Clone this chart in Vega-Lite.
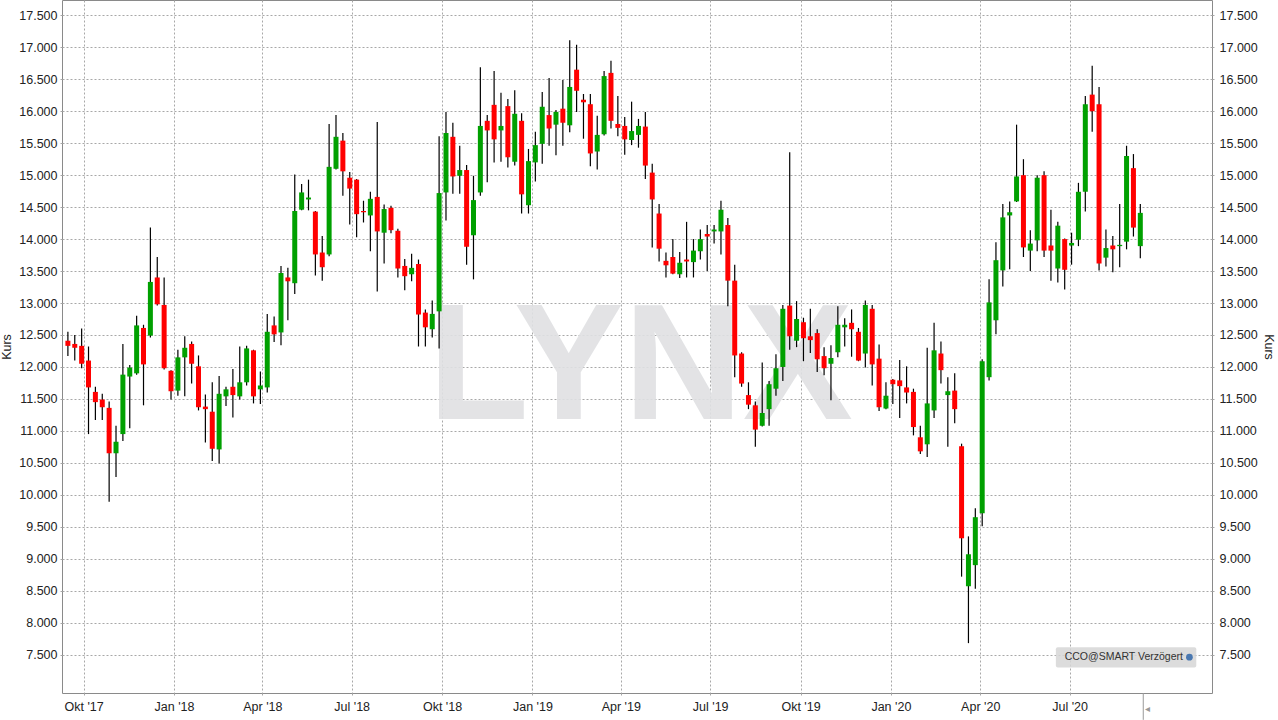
{
"$schema": "https://vega.github.io/schema/vega-lite/v6.json",
"width": 1150, "height": 693,
"autosize": {"type": "none"},
"padding": {"left": 62, "right": 66, "top": 0, "bottom": 27},
"background": "#ffffff",
"config": {
 "view": {"stroke": "#8a8a8a", "strokeWidth": 1},
 "scale": {"continuousPadding": 0},
 "axis": {"labelFont": "Liberation Sans", "labelFontSize": 12.5, "labelColor": "#222222", "titleFont": "Liberation Sans", "titleFontSize": 12.5, "titleFontWeight": "normal", "titleColor": "#222222", "gridColor": "#a8a8a8", "gridDash": [2, 2], "gridWidth": 1, "domain": false, "tickColor": "#a8a8a8", "tickDash": [2, 2]},
 "axisX": {"title": null, "grid": true, "ticks": true, "tickSize": 4, "labelPadding": 3, "labelOverlap": false, "labelFlush": false}
},
"datasets": {
 "candles": [
{"d":"2017-09-15","o":12.41,"h":12.55,"l":12.17,"c":12.33},
{"d":"2017-09-22","o":12.36,"h":12.50,"l":12.10,"c":12.30},
{"d":"2017-09-29","o":12.33,"h":12.60,"l":11.98,"c":12.05},
{"d":"2017-10-06","o":12.10,"h":12.32,"l":10.95,"c":11.68},
{"d":"2017-10-13","o":11.61,"h":11.69,"l":11.17,"c":11.45},
{"d":"2017-10-20","o":11.49,"h":11.58,"l":11.17,"c":11.37},
{"d":"2017-10-27","o":11.36,"h":11.46,"l":9.89,"c":10.65},
{"d":"2017-11-03","o":10.65,"h":11.08,"l":10.28,"c":10.83},
{"d":"2017-11-10","o":10.95,"h":12.36,"l":10.84,"c":11.88},
{"d":"2017-11-17","o":11.85,"h":12.03,"l":11.04,"c":11.99},
{"d":"2017-11-24","o":11.90,"h":12.80,"l":11.88,"c":12.65},
{"d":"2017-12-01","o":12.61,"h":12.66,"l":11.40,"c":12.04},
{"d":"2017-12-08","o":12.49,"h":14.18,"l":12.46,"c":13.33},
{"d":"2017-12-15","o":13.40,"h":13.72,"l":12.96,"c":12.98},
{"d":"2017-12-22","o":12.97,"h":13.40,"l":11.96,"c":11.98},
{"d":"2017-12-29","o":11.94,"h":11.95,"l":11.49,"c":11.62},
{"d":"2018-01-05","o":11.63,"h":12.27,"l":11.55,"c":12.15},
{"d":"2018-01-12","o":12.15,"h":12.48,"l":11.54,"c":12.30},
{"d":"2018-01-19","o":12.36,"h":12.40,"l":11.74,"c":12.05},
{"d":"2018-01-26","o":12.01,"h":12.18,"l":11.32,"c":11.37},
{"d":"2018-02-02","o":11.38,"h":11.57,"l":10.82,"c":11.34},
{"d":"2018-02-09","o":11.30,"h":11.76,"l":10.53,"c":10.72},
{"d":"2018-02-16","o":10.71,"h":11.86,"l":10.49,"c":11.58},
{"d":"2018-02-23","o":11.54,"h":11.69,"l":11.39,"c":11.65},
{"d":"2018-03-02","o":11.69,"h":11.97,"l":11.21,"c":11.56},
{"d":"2018-03-09","o":11.54,"h":12.32,"l":11.49,"c":11.76},
{"d":"2018-03-16","o":11.76,"h":12.33,"l":11.71,"c":12.29},
{"d":"2018-03-23","o":12.26,"h":12.27,"l":11.43,"c":11.54},
{"d":"2018-03-30","o":11.65,"h":11.93,"l":11.42,"c":11.71},
{"d":"2018-04-06","o":11.68,"h":12.83,"l":11.60,"c":12.55},
{"d":"2018-04-13","o":12.65,"h":12.79,"l":12.39,"c":12.51},
{"d":"2018-04-20","o":12.54,"h":13.58,"l":12.34,"c":13.47},
{"d":"2018-04-27","o":13.40,"h":13.55,"l":12.73,"c":13.34},
{"d":"2018-05-04","o":13.31,"h":15.01,"l":13.14,"c":14.44},
{"d":"2018-05-11","o":14.46,"h":14.86,"l":14.45,"c":14.73},
{"d":"2018-05-18","o":14.62,"h":14.93,"l":14.45,"c":14.65},
{"d":"2018-05-25","o":14.43,"h":14.44,"l":13.43,"c":13.76},
{"d":"2018-06-01","o":13.79,"h":14.05,"l":13.35,"c":13.56},
{"d":"2018-06-08","o":13.76,"h":15.80,"l":13.73,"c":15.13},
{"d":"2018-06-15","o":15.10,"h":15.94,"l":15.09,"c":15.60},
{"d":"2018-06-22","o":15.54,"h":15.66,"l":14.68,"c":15.06},
{"d":"2018-06-29","o":14.96,"h":15.05,"l":14.23,"c":14.79},
{"d":"2018-07-06","o":14.93,"h":14.94,"l":14.03,"c":14.39},
{"d":"2018-07-13","o":14.44,"h":14.60,"l":14.26,"c":14.42},
{"d":"2018-07-20","o":14.37,"h":14.74,"l":13.81,"c":14.63},
{"d":"2018-07-27","o":14.66,"h":15.83,"l":13.18,"c":14.12},
{"d":"2018-08-03","o":14.10,"h":14.54,"l":13.62,"c":14.47},
{"d":"2018-08-10","o":14.49,"h":14.52,"l":14.09,"c":14.14},
{"d":"2018-08-17","o":14.13,"h":14.16,"l":13.40,"c":13.54},
{"d":"2018-08-24","o":13.58,"h":13.69,"l":13.20,"c":13.42},
{"d":"2018-08-31","o":13.45,"h":13.77,"l":13.34,"c":13.55},
{"d":"2018-09-07","o":13.61,"h":13.68,"l":12.32,"c":12.82},
{"d":"2018-09-14","o":12.85,"h":12.90,"l":12.32,"c":12.62},
{"d":"2018-09-21","o":12.59,"h":13.04,"l":12.46,"c":12.83},
{"d":"2018-09-28","o":12.87,"h":15.61,"l":12.29,"c":14.72},
{"d":"2018-10-05","o":14.73,"h":15.99,"l":14.29,"c":15.66},
{"d":"2018-10-12","o":15.60,"h":15.82,"l":14.71,"c":14.98},
{"d":"2018-10-19","o":14.99,"h":15.46,"l":14.71,"c":15.08},
{"d":"2018-10-26","o":15.08,"h":15.16,"l":13.60,"c":13.88},
{"d":"2018-11-02","o":14.06,"h":14.99,"l":13.37,"c":14.61},
{"d":"2018-11-09","o":14.73,"h":16.69,"l":14.68,"c":15.77},
{"d":"2018-11-16","o":15.85,"h":15.94,"l":14.89,"c":15.70},
{"d":"2018-11-23","o":16.10,"h":16.63,"l":15.20,"c":15.56},
{"d":"2018-11-30","o":15.70,"h":16.29,"l":15.21,"c":15.77},
{"d":"2018-12-07","o":16.08,"h":16.19,"l":15.12,"c":15.28},
{"d":"2018-12-14","o":15.21,"h":16.33,"l":15.15,"c":15.96},
{"d":"2018-12-21","o":15.85,"h":15.97,"l":14.40,"c":14.70},
{"d":"2018-12-28","o":14.53,"h":15.41,"l":14.40,"c":15.22},
{"d":"2019-01-04","o":15.20,"h":15.68,"l":14.90,"c":15.47},
{"d":"2019-01-11","o":15.49,"h":16.30,"l":15.18,"c":16.07},
{"d":"2019-01-18","o":15.94,"h":16.52,"l":15.46,"c":15.73},
{"d":"2019-01-25","o":15.79,"h":16.02,"l":15.31,"c":15.99},
{"d":"2019-02-01","o":16.04,"h":16.49,"l":15.46,"c":15.82},
{"d":"2019-02-08","o":15.78,"h":17.11,"l":15.67,"c":16.38},
{"d":"2019-02-15","o":16.65,"h":17.04,"l":15.99,"c":16.32},
{"d":"2019-02-22","o":16.18,"h":16.27,"l":15.57,"c":16.14},
{"d":"2019-03-01","o":16.11,"h":16.27,"l":15.14,"c":15.34},
{"d":"2019-03-08","o":15.37,"h":15.93,"l":15.09,"c":15.63},
{"d":"2019-03-15","o":15.64,"h":16.63,"l":15.62,"c":16.55},
{"d":"2019-03-22","o":16.60,"h":16.79,"l":15.73,"c":15.85},
{"d":"2019-03-29","o":15.80,"h":16.24,"l":15.61,"c":15.74},
{"d":"2019-04-05","o":15.77,"h":15.91,"l":15.32,"c":15.56},
{"d":"2019-04-12","o":15.55,"h":16.15,"l":15.47,"c":15.69},
{"d":"2019-04-19","o":15.63,"h":15.88,"l":15.43,"c":15.77},
{"d":"2019-04-26","o":15.76,"h":15.99,"l":14.94,"c":15.15},
{"d":"2019-05-03","o":15.04,"h":15.18,"l":13.87,"c":14.62},
{"d":"2019-05-10","o":14.40,"h":14.55,"l":13.65,"c":13.85},
{"d":"2019-05-17","o":13.66,"h":13.79,"l":13.40,"c":13.59},
{"d":"2019-05-24","o":13.72,"h":14.00,"l":13.45,"c":13.46},
{"d":"2019-05-31","o":13.45,"h":13.80,"l":13.39,"c":13.63},
{"d":"2019-06-07","o":13.68,"h":14.27,"l":13.40,"c":13.65},
{"d":"2019-06-14","o":13.64,"h":14.00,"l":13.40,"c":13.82},
{"d":"2019-06-21","o":13.81,"h":14.15,"l":13.68,"c":14.00},
{"d":"2019-06-28","o":14.08,"h":14.22,"l":13.50,"c":14.04},
{"d":"2019-07-05","o":14.12,"h":14.22,"l":13.93,"c":14.15},
{"d":"2019-07-12","o":14.12,"h":14.60,"l":13.76,"c":14.46},
{"d":"2019-07-19","o":14.22,"h":14.33,"l":12.95,"c":13.35},
{"d":"2019-07-26","o":13.35,"h":13.60,"l":11.84,"c":12.18},
{"d":"2019-08-02","o":12.21,"h":12.23,"l":11.69,"c":11.74},
{"d":"2019-08-09","o":11.56,"h":11.76,"l":11.34,"c":11.41},
{"d":"2019-08-16","o":11.40,"h":11.46,"l":10.75,"c":11.02},
{"d":"2019-08-23","o":11.08,"h":12.07,"l":11.07,"c":11.28},
{"d":"2019-08-30","o":11.34,"h":11.78,"l":11.08,"c":11.73},
{"d":"2019-09-06","o":11.66,"h":12.20,"l":11.55,"c":11.98},
{"d":"2019-09-13","o":12.00,"h":12.97,"l":11.78,"c":12.91},
{"d":"2019-09-20","o":12.96,"h":15.36,"l":12.27,"c":12.48},
{"d":"2019-09-27","o":12.41,"h":13.03,"l":12.31,"c":12.75},
{"d":"2019-10-04","o":12.70,"h":12.77,"l":12.09,"c":12.45},
{"d":"2019-10-11","o":12.48,"h":12.91,"l":12.22,"c":12.42},
{"d":"2019-10-18","o":12.53,"h":12.59,"l":11.92,"c":12.12},
{"d":"2019-10-25","o":12.17,"h":12.31,"l":11.87,"c":11.98},
{"d":"2019-11-01","o":12.05,"h":12.34,"l":11.48,"c":12.14},
{"d":"2019-11-08","o":12.23,"h":12.95,"l":12.15,"c":12.66},
{"d":"2019-11-15","o":12.62,"h":12.76,"l":12.32,"c":12.66},
{"d":"2019-11-22","o":12.69,"h":12.90,"l":12.16,"c":12.59},
{"d":"2019-11-29","o":12.55,"h":12.61,"l":12.09,"c":12.10},
{"d":"2019-12-06","o":12.21,"h":13.04,"l":11.99,"c":12.97},
{"d":"2019-12-13","o":12.91,"h":12.97,"l":11.71,"c":12.04},
{"d":"2019-12-20","o":12.13,"h":12.35,"l":11.31,"c":11.37},
{"d":"2019-12-27","o":11.35,"h":11.76,"l":11.34,"c":11.55},
{"d":"2020-01-03","o":11.80,"h":11.81,"l":11.42,"c":11.73},
{"d":"2020-01-10","o":11.79,"h":12.11,"l":11.20,"c":11.70},
{"d":"2020-01-17","o":11.68,"h":12.01,"l":11.43,"c":11.60},
{"d":"2020-01-24","o":11.61,"h":11.66,"l":10.93,"c":11.06},
{"d":"2020-01-31","o":10.90,"h":11.08,"l":10.64,"c":10.68},
{"d":"2020-02-07","o":10.79,"h":12.30,"l":10.59,"c":11.43},
{"d":"2020-02-14","o":11.32,"h":12.69,"l":11.20,"c":12.26},
{"d":"2020-02-21","o":12.21,"h":12.40,"l":11.74,"c":11.95},
{"d":"2020-02-28","o":11.56,"h":11.84,"l":10.75,"c":11.62},
{"d":"2020-03-06","o":11.63,"h":11.90,"l":11.12,"c":11.34},
{"d":"2020-03-13","o":10.76,"h":10.80,"l":8.72,"c":9.32},
{"d":"2020-03-20","o":8.57,"h":9.35,"l":7.68,"c":9.07},
{"d":"2020-03-27","o":8.90,"h":9.79,"l":8.53,"c":9.65},
{"d":"2020-04-03","o":9.71,"h":12.12,"l":9.51,"c":12.09},
{"d":"2020-04-10","o":11.84,"h":13.37,"l":11.79,"c":13.01},
{"d":"2020-04-17","o":12.73,"h":13.95,"l":12.51,"c":13.67},
{"d":"2020-04-24","o":13.51,"h":14.55,"l":13.26,"c":14.34},
{"d":"2020-05-01","o":14.37,"h":14.59,"l":13.53,"c":14.42},
{"d":"2020-05-08","o":14.59,"h":15.79,"l":14.58,"c":14.98},
{"d":"2020-05-15","o":15.00,"h":15.25,"l":13.72,"c":13.87},
{"d":"2020-05-22","o":13.82,"h":14.14,"l":13.50,"c":13.93},
{"d":"2020-05-29","o":13.98,"h":15.00,"l":13.81,"c":14.96},
{"d":"2020-06-05","o":15.00,"h":15.06,"l":13.72,"c":13.82},
{"d":"2020-06-12","o":13.90,"h":14.46,"l":13.35,"c":13.82},
{"d":"2020-06-19","o":13.54,"h":14.27,"l":13.32,"c":14.21},
{"d":"2020-06-26","o":14.00,"h":14.01,"l":13.21,"c":13.52},
{"d":"2020-07-03","o":13.90,"h":14.10,"l":13.60,"c":13.94},
{"d":"2020-07-10","o":13.99,"h":14.88,"l":13.89,"c":14.74},
{"d":"2020-07-17","o":14.74,"h":16.24,"l":14.43,"c":16.11},
{"d":"2020-07-24","o":16.26,"h":16.71,"l":15.68,"c":16.00},
{"d":"2020-07-31","o":16.11,"h":16.38,"l":13.51,"c":13.62},
{"d":"2020-08-07","o":13.71,"h":14.15,"l":13.57,"c":13.86},
{"d":"2020-08-14","o":13.90,"h":14.05,"l":13.48,"c":13.84},
{"d":"2020-08-21","o":13.89,"h":14.55,"l":13.56,"c":13.91},
{"d":"2020-08-28","o":13.96,"h":15.46,"l":13.84,"c":15.30},
{"d":"2020-09-04","o":15.11,"h":15.33,"l":14.04,"c":14.18},
{"d":"2020-09-11","o":13.89,"h":14.55,"l":13.70,"c":14.41}
 ]
},
"resolve": {"axis": {"y": "independent"}},
"layer": [
 {
  "data": {"values": [{"t": "LYNX", "d": "2019-04-21", "v": 11.19}]},
  "mark": {"type": "text", "font": "Liberation Sans", "fontWeight": "bold", "fontSize": 165, "color": "#e0e1e3", "opacity": 0.9, "align": "center", "baseline": "alphabetic"},
  "encoding": {
   "x": {"field": "d", "type": "temporal", "scale": {"type": "utc", "nice": false, "padding": 0, "domain": [1504915200000, 1606089600000]},
    "axis": {"values": [1506816000000, 1514764800000, 1522540800000, 1530403200000, 1538352000000, 1546300800000, 1554076800000, 1561939200000, 1569888000000, 1577836800000, 1585699200000, 1593561600000], "labelExpr": "(utcFormat(datum.value, '%m') == '10' ? 'Okt' : utcFormat(datum.value, '%b')) + \" '\" + utcFormat(datum.value, '%y')"}},
   "y": {"field": "v", "type": "quantitative", "scale": {"domain": [6.9, 17.74], "zero": false, "nice": false}, "axis": null},
   "text": {"field": "t"}
  }
 },
 {
  "data": {"name": "candles"},
  "mark": {"type": "rule", "color": "#000000", "strokeWidth": 1.2},
  "encoding": {
   "x": {"field": "d", "type": "temporal", "scale": {"type": "utc", "nice": false, "padding": 0, "domain": [1504915200000, 1606089600000]},
    "axis": {"values": [1506816000000, 1514764800000, 1522540800000, 1530403200000, 1538352000000, 1546300800000, 1554076800000, 1561939200000, 1569888000000, 1577836800000, 1585699200000, 1593561600000], "labelExpr": "(utcFormat(datum.value, '%m') == '10' ? 'Okt' : utcFormat(datum.value, '%b')) + \" '\" + utcFormat(datum.value, '%y')"}},
   "y": {"field": "l", "type": "quantitative", "scale": {"domain": [6.9, 17.74], "zero": false, "nice": false},
    "axis": {"orient": "left", "title": "Kurs", "grid": true, "format": ".3f", "tickSize": 3, "labelPadding": 2, "values": [7.5, 8, 8.5, 9, 9.5, 10, 10.5, 11, 11.5, 12, 12.5, 13, 13.5, 14, 14.5, 15, 15.5, 16, 16.5, 17, 17.5], "titleX": -56, "titleY": 346.5, "titleAngle": 270, "titleAlign": "center", "titleBaseline": "middle"}},
   "y2": {"field": "h"}
  }
 },
 {
  "data": {"name": "candles"},
  "mark": {"type": "bar", "size": 5},
  "encoding": {
   "x": {"field": "d", "type": "temporal", "scale": {"type": "utc", "nice": false, "padding": 0, "domain": [1504915200000, 1606089600000]},
    "axis": {"values": [1506816000000, 1514764800000, 1522540800000, 1530403200000, 1538352000000, 1546300800000, 1554076800000, 1561939200000, 1569888000000, 1577836800000, 1585699200000, 1593561600000], "labelExpr": "(utcFormat(datum.value, '%m') == '10' ? 'Okt' : utcFormat(datum.value, '%b')) + \" '\" + utcFormat(datum.value, '%y')"}},
   "y": {"field": "o", "type": "quantitative", "scale": {"domain": [6.9, 17.74], "zero": false, "nice": false},
    "axis": {"orient": "right", "title": "Kurs", "grid": false, "format": ".3f", "tickSize": 3, "labelPadding": 4, "values": [7.5, 8, 8.5, 9, 9.5, 10, 10.5, 11, 11.5, 12, 12.5, 13, 13.5, 14, 14.5, 15, 15.5, 16, 16.5, 17, 17.5], "titleX": 56, "titleY": 346.5, "titleAngle": 90, "titleAlign": "center", "titleBaseline": "middle"}},
   "y2": {"field": "c"},
   "color": {"condition": {"test": "datum.c >= datum.o", "value": "#00a000"}, "value": "#ff0000"}
  }
 },
 {
  "data": {"values": [{"d": "2020-06-17", "x2": "2020-11-07", "y1": 7.30, "y2": 7.617}]},
  "mark": {"type": "rect", "color": "#d6d6d6", "opacity": 0.85, "cornerRadius": 2},
  "encoding": {
   "x": {"field": "d", "type": "temporal", "scale": {"type": "utc", "nice": false, "padding": 0, "domain": [1504915200000, 1606089600000]},
    "axis": {"values": [1506816000000, 1514764800000, 1522540800000, 1530403200000, 1538352000000, 1546300800000, 1554076800000, 1561939200000, 1569888000000, 1577836800000, 1585699200000, 1593561600000], "labelExpr": "(utcFormat(datum.value, '%m') == '10' ? 'Okt' : utcFormat(datum.value, '%b')) + \" '\" + utcFormat(datum.value, '%y')"}},
   "x2": {"field": "x2"},
   "y": {"field": "y1", "type": "quantitative", "scale": {"domain": [6.9, 17.74], "zero": false, "nice": false}, "axis": null},
   "y2": {"field": "y2"}
  }
 },
 {
  "data": {"values": [{"t": "CCO@SMART Verzögert", "d": "2020-06-26", "v": 7.46}]},
  "mark": {"type": "text", "font": "Liberation Sans", "fontSize": 10.5, "color": "#333333", "align": "left", "baseline": "middle"},
  "encoding": {
   "x": {"field": "d", "type": "temporal", "scale": {"type": "utc", "nice": false, "padding": 0, "domain": [1504915200000, 1606089600000]},
    "axis": {"values": [1506816000000, 1514764800000, 1522540800000, 1530403200000, 1538352000000, 1546300800000, 1554076800000, 1561939200000, 1569888000000, 1577836800000, 1585699200000, 1593561600000], "labelExpr": "(utcFormat(datum.value, '%m') == '10' ? 'Okt' : utcFormat(datum.value, '%b')) + \" '\" + utcFormat(datum.value, '%y')"}},
   "y": {"field": "v", "type": "quantitative", "scale": {"domain": [6.9, 17.74], "zero": false, "nice": false}, "axis": null},
   "text": {"field": "t"}
  }
 },
 {
  "data": {"values": [{"d": "2020-10-31", "v": 7.46}]},
  "mark": {"type": "point", "filled": true, "shape": "circle", "size": 45, "color": "#4a78b0", "opacity": 1},
  "encoding": {
   "x": {"field": "d", "type": "temporal", "scale": {"type": "utc", "nice": false, "padding": 0, "domain": [1504915200000, 1606089600000]},
    "axis": {"values": [1506816000000, 1514764800000, 1522540800000, 1530403200000, 1538352000000, 1546300800000, 1554076800000, 1561939200000, 1569888000000, 1577836800000, 1585699200000, 1593561600000], "labelExpr": "(utcFormat(datum.value, '%m') == '10' ? 'Okt' : utcFormat(datum.value, '%b')) + \" '\" + utcFormat(datum.value, '%y')"}},
   "y": {"field": "v", "type": "quantitative", "scale": {"domain": [6.9, 17.74], "zero": false, "nice": false}, "axis": null}
  }
 },
 {
  "data": {"values": [{"d": "2020-09-14", "v1": 6.9, "v2": 6.48}]},
  "mark": {"type": "rule", "color": "#999999", "strokeWidth": 1},
  "encoding": {
   "x": {"field": "d", "type": "temporal", "scale": {"type": "utc", "nice": false, "padding": 0, "domain": [1504915200000, 1606089600000]},
    "axis": {"values": [1506816000000, 1514764800000, 1522540800000, 1530403200000, 1538352000000, 1546300800000, 1554076800000, 1561939200000, 1569888000000, 1577836800000, 1585699200000, 1593561600000], "labelExpr": "(utcFormat(datum.value, '%m') == '10' ? 'Okt' : utcFormat(datum.value, '%b')) + \" '\" + utcFormat(datum.value, '%y')"}},
   "y": {"field": "v1", "type": "quantitative", "scale": {"domain": [6.9, 17.74], "zero": false, "nice": false}, "axis": null},
   "y2": {"field": "v2"}
  }
 },
 {
  "data": {"values": [{"t": "◂", "d": "2020-09-18", "v": 6.655}]},
  "mark": {"type": "text", "fontSize": 10, "color": "#999999", "align": "center", "baseline": "middle"},
  "encoding": {
   "x": {"field": "d", "type": "temporal", "scale": {"type": "utc", "nice": false, "padding": 0, "domain": [1504915200000, 1606089600000]},
    "axis": {"values": [1506816000000, 1514764800000, 1522540800000, 1530403200000, 1538352000000, 1546300800000, 1554076800000, 1561939200000, 1569888000000, 1577836800000, 1585699200000, 1593561600000], "labelExpr": "(utcFormat(datum.value, '%m') == '10' ? 'Okt' : utcFormat(datum.value, '%b')) + \" '\" + utcFormat(datum.value, '%y')"}},
   "y": {"field": "v", "type": "quantitative", "scale": {"domain": [6.9, 17.74], "zero": false, "nice": false}, "axis": null},
   "text": {"field": "t"}
  }
 }
]
}
